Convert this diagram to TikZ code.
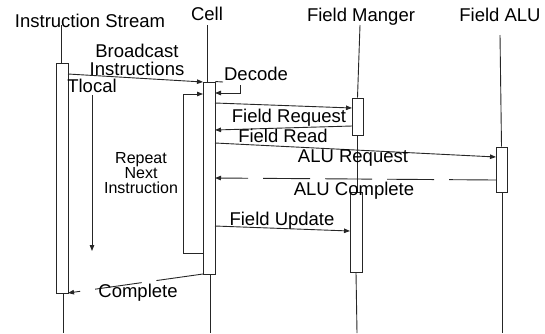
\documentclass[tikz,border=0pt]{standalone}
\usepackage{fontspec}
\setmainfont{Liberation Sans}
\usetikzlibrary{arrows.meta}
\begin{document}
\begin{tikzpicture}[x=1pt,y=-1pt,
  life/.style={draw=black!85, line width=0.9pt},
  actbox/.style={rectangle, draw=black!85, fill=white, line width=0.9pt, inner sep=0pt},
  msg/.style={draw=black!85, line width=0.9pt, -{Triangle[length=6pt,width=4.5pt]}},
  dashmsg/.style={msg, dash pattern=on 47pt off 15pt},
  lbl/.style={font=\fontsize{18.5}{20}\selectfont, inner sep=0pt, anchor=base},
  sml/.style={font=\fontsize{16}{16}\selectfont, inner sep=0pt, anchor=base}]
\useasboundingbox (0,0) rectangle (545,333);

% lifeline heads
\node[lbl] (lis) at (90,27) {Instruction Stream};
\node[lbl] (lcell) at (207,20) {Cell};
\node[lbl] (lfm) at (361,21) {Field Manger};
\node[lbl] (lalu) at (500,21) {Field ALU};

% lifeline end coordinates
\coordinate (istop) at (61,25);
\coordinate (isbot) at (63,333);
\coordinate (celltop) at (207,25);
\coordinate (cellbot) at (210,333);
\coordinate (fmtop) at (360,25);
\coordinate (fmbot) at (357,333);
\coordinate (alutop) at (500,35);
\coordinate (alubot) at (502,333);

% activation boxes (geometry)
\path (62,178) node[actbox, minimum width=12pt, minimum height=230pt] (isbox) {};
\path (209,178) node[actbox, minimum width=12pt, minimum height=192pt] (cellbox) {};
\path (357.5,116.5) node[actbox, minimum width=11pt, minimum height=37pt] (fmA) {};
\path (356,232) node[actbox, minimum width=12pt, minimum height=80pt] (fmB) {};
\path (501.5,169.5) node[actbox, minimum width=11pt, minimum height=45pt] (alubox) {};

% lifelines
\draw[life] (istop) -- (isbox.north -| istop);
\draw[life] (isbox.south -| isbot) -- (isbot);
\draw[life] (celltop) -- (cellbox.north -| celltop);
\draw[life] (cellbox.south -| cellbot) -- (cellbot);
\draw[life] (fmtop) -- (fmA.north);
\draw[life] (fmA.south) -- (fmB.north -| fmA.south);
\draw[life] (fmB.south) -- (fmbot);
\draw[life] (alutop) -- (alubox.north);
\draw[life] (alubox.south -| alubot) -- (alubot);

% redraw boxes on top of lifelines
\node[actbox, minimum width=12pt, minimum height=230pt] at (isbox) {};
\node[actbox, minimum width=12pt, minimum height=192pt] at (cellbox) {};
\node[actbox, minimum width=11pt, minimum height=37pt] at (fmA) {};
\node[actbox, minimum width=12pt, minimum height=80pt] at (fmB) {};
\node[actbox, minimum width=11pt, minimum height=45pt] at (alubox) {};

% message end points
\coordinate (b1) at (68,74);
\coordinate (b2) at (203,82);
\coordinate (d0) at (223,82);
\coordinate (d1) at (240,85);
\coordinate (d2) at (240,93);
\coordinate (d3) at (215,93);
\coordinate (r1) at (203,253);
\coordinate (r2) at (183,94);
\coordinate (r3) at (203,94);
\coordinate (fr1) at (215,103);
\coordinate (fr2) at (352,108);
\coordinate (fd1) at (352,126);
\coordinate (fd2) at (215,130);
\coordinate (ar1) at (215,143);
\coordinate (ar2) at (496,157);
\coordinate (ac1) at (496,180);
\coordinate (ac2) at (215,178);
\coordinate (fu1) at (215,226);
\coordinate (fu2) at (350,231);
\coordinate (c1) at (203,274);
\coordinate (c2) at (68,293);
\coordinate (t1) at (92,95);
\coordinate (t2) at (92,251);

% connectors
\draw[msg] (b1) -- (b2);
\draw[life] (cellbox.north east) -- (d0);
\draw[msg] (d1) -- (d2) -- (d3);
\draw[msg] (r1) -| (r2) -- (r3);
\draw[msg] (fr1) -- (fr2);
\draw[msg] (fd1) -- (fd2);
\draw[msg] (ar1) -- (ar2);
\draw[dashmsg] (ac1) -- (ac2);
\draw[msg] (fu1) -- (fu2);
\draw[dashmsg] (c1) -- (c2);
\draw[msg] (t1) -- (t2);

% labels
\node[lbl] (tb1) at (137,57) {Broadcast};
\node[lbl] (tb2) at (137,75) {Instructions};
\node[lbl] (tdec) at (256,80) {Decode};
\node[lbl] (ttl) at (92,92) {Tlocal};
\node[sml] (rep1) at (141,163) {Repeat};
\node[sml] (rep2) at (141,178) {Next};
\node[sml] (rep3) at (141,193) {Instruction};
\node[lbl] (tfr) at (289,122) {Field Request};
\node[lbl] (tfd) at (283,142) {Field Read};
\node[lbl] (tar) at (353,162) {ALU Request};
\node[lbl] (tac) at (354,195) {ALU Complete};
\node[lbl] (tfu) at (282,225) {Field Update};
\node[lbl] (tc) at (138,297) {Complete};
\end{tikzpicture}
\end{document}
